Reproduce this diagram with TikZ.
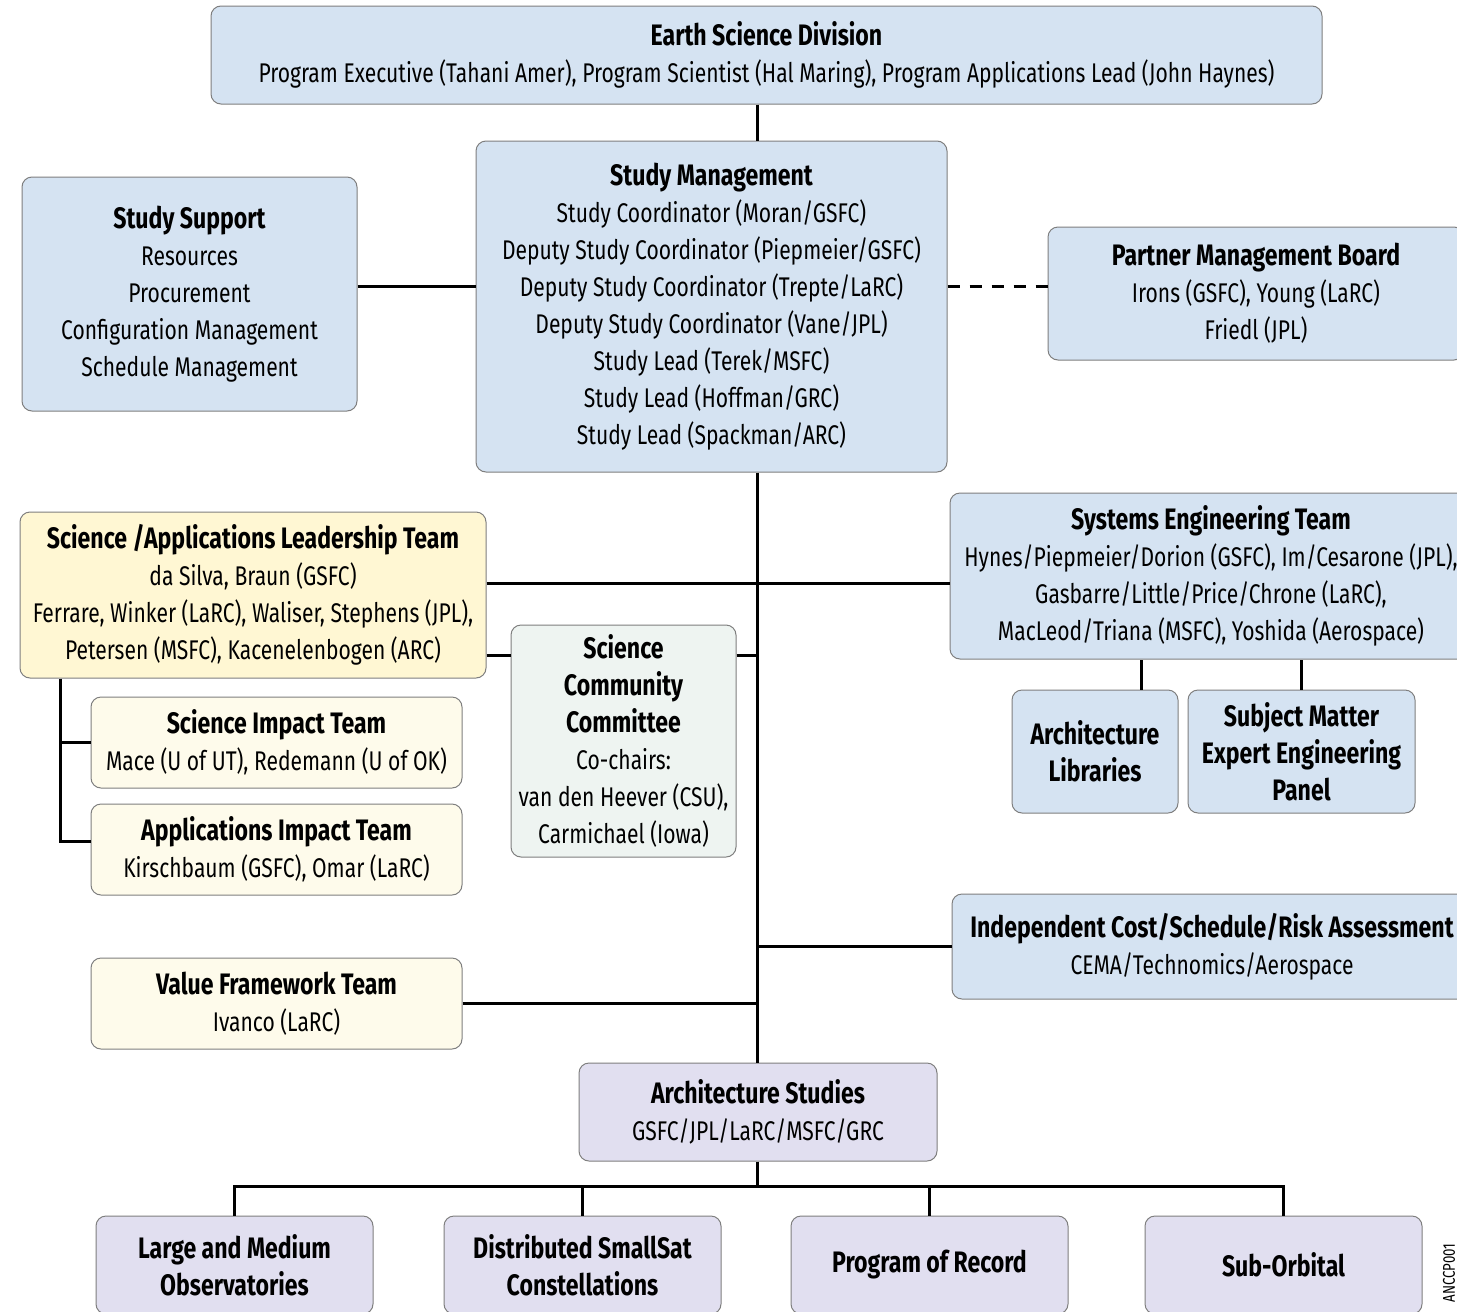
\documentclass[tikz,border=0pt]{standalone}
\usepackage{fontspec}
\setmainfont[FakeStretch=0.78]{Fira Sans}
\usetikzlibrary{positioning}
\definecolor{boxblue}{HTML}{D5E3F2}
\definecolor{boxyellow}{HTML}{FFF7D3}
\definecolor{boxcream}{HTML}{FEFBEB}
\definecolor{boxgreen}{HTML}{EEF4F1}
\definecolor{boxviolet}{HTML}{E1DFF0}
\definecolor{boxline}{HTML}{7F7F7F}
\newcommand\boxtitle[1]{{\fontsize{14.8}{18.5}\selectfont\bfseries #1}}
\tikzset{
    orgbox/.style={draw=boxline,line width=0.5pt,rounded corners=5pt,align=center,inner sep=0pt,
        font=\fontsize{13.5}{18.5}\selectfont},
    bluebox/.style={orgbox,fill=boxblue},
    yellowbox/.style={orgbox,fill=boxyellow},
    creambox/.style={orgbox,fill=boxcream},
    greenbox/.style={orgbox,fill=boxgreen},
    violetbox/.style={orgbox,fill=boxviolet},
    link/.style={line width=1.5pt},
}
\begin{document}
\begin{tikzpicture}[x=0.5pt,y=-0.5pt]
    \clip (0,0) rectangle (1457,1312);
    \fill[white] (0,0) rectangle (1457,1312);
    % top of the tree
    \node[bluebox,minimum width=555.5pt,minimum height=49pt] (esd) at (766.5,55)
        {\boxtitle{Earth Science Division}\\Program Executive (Tahani Amer), Program Scientist (Hal Maring), Program Applications Lead (John Haynes)};
    \node[bluebox,minimum width=235.5pt,minimum height=165.5pt] (sm) at (711.5,306.5)
        {\boxtitle{Study Management}\\Study Coordinator (Moran/GSFC)\\Deputy Study Coordinator (Piepmeier/GSFC)\\Deputy Study Coordinator (Trepte/LaRC)\\Deputy Study Coordinator (Vane/JPL)\\Study Lead (Terek/MSFC)\\Study Lead (Hoffman/GRC)\\Study Lead (Spackman/ARC)};
    \node[bluebox,minimum width=167.5pt,minimum height=117pt] (ss) at (189.5,294)
        {\boxtitle{Study Support}\\Resources\\Procurement\\Configuration Management\\Schedule Management};
    \node[bluebox,minimum width=208pt,minimum height=66.5pt] (pmb) at (1256,293.5)
        {\boxtitle{Partner Management Board}\\Irons (GSFC), Young (LaRC)\\Friedl (JPL)};
    % teams
    \node[yellowbox,minimum width=233pt,minimum height=83pt] (salt) at (253,595)
        {\boxtitle{Science /Applications Leadership Team}\\da Silva, Braun (GSFC)\\Ferrare, Winker (LaRC), Waliser, Stephens (JPL),\\Petersen (MSFC), Kacenelenbogen (ARC)};
    \node[bluebox,minimum width=261pt,minimum height=83pt] (set) at (1211,576)
        {\boxtitle{Systems Engineering Team}\\Hynes/Piepmeier/Dorion (GSFC), Im/Cesarone (JPL),\\Gasbarre/Little/Price/Chrone (LaRC),\\MacLeod/Triana (MSFC), Yoshida (Aerospace)};
    \node[greenbox,minimum width=112.5pt,minimum height=116pt] (scc) at (623.5,741)
        {\boxtitle{Science}\\\boxtitle{Community}\\\boxtitle{Committee}\\Co-chairs:\\van den Heever (CSU),\\Carmichael (Iowa)};
    \node[bluebox,minimum width=83pt,minimum height=61.5pt] (al) at (1095,751.5)
        {\boxtitle{Architecture}\\\boxtitle{Libraries}};
    \node[bluebox,minimum width=113.5pt,minimum height=61.5pt] (sme) at (1301.5,751.5)
        {\boxtitle{Subject Matter}\\\boxtitle{Expert Engineering}\\\boxtitle{Panel}};
    \node[creambox,minimum width=185.5pt,minimum height=45.5pt] (sit) at (276.5,742.5)
        {\boxtitle{Science Impact Team}\\Mace (U of UT), Redemann (U of OK)};
    \node[creambox,minimum width=185.5pt,minimum height=45.5pt] (ait) at (276.5,849.5)
        {\boxtitle{Applications Impact Team}\\Kirschbaum (GSFC), Omar (LaRC)};
    \node[bluebox,minimum width=260pt,minimum height=52.5pt] (icsra) at (1212,946.5)
        {\boxtitle{Independent Cost/Schedule/Risk Assessment}\\CEMA/Technomics/Aerospace};
    \node[creambox,minimum width=185.5pt,minimum height=45.5pt] (vft) at (276.5,1003.5)
        {\boxtitle{Value Framework Team}\\Ivanco (LaRC)};
    % studies
    \node[violetbox,minimum width=179pt,minimum height=49pt] (as) at (758,1112)
        {\boxtitle{Architecture Studies}\\GSFC/JPL/LaRC/MSFC/GRC};
    \node[violetbox,minimum width=138.5pt,minimum height=49pt] (lmo) at (234.5,1265)
        {\boxtitle{Large and Medium}\\\boxtitle{Observatories}};
    \node[violetbox,minimum width=138.5pt,minimum height=49pt] (dsc) at (582.5,1265)
        {\boxtitle{Distributed SmallSat}\\\boxtitle{Constellations}};
    \node[violetbox,minimum width=138.5pt,minimum height=49pt] (por) at (929.5,1265)
        {\boxtitle{Program of Record}};
    \node[violetbox,minimum width=138.5pt,minimum height=49pt] (so) at (1283.5,1265)
        {\boxtitle{Sub-Orbital}};
    \node[rotate=90,font=\fontsize{8.5}{10}\selectfont] (tag) at (1449,1273) {ANCCP001};
    % connectors
    \coordinate (spine) at (757,286);
    \coordinate (j1) at (757,583);
    \coordinate (j2) at (757,655);
    \coordinate (tap) at (60,700);
    \coordinate (bus) at (757,1186);
    \draw[link] (esd.south -| spine) -- (sm.north -| spine);
    \draw[link] (sm.south -| spine) -- (as.north -| spine);
    \draw[link] (ss.east |- spine) -- (sm.west |- spine);
    \draw[link,dashed,dash pattern=on 6pt off 5pt] (sm.east |- spine) -- (pmb.west |- spine);
    \draw[link] (salt.east |- j1) -- (set.west |- j1);
    \draw[link] (salt.east |- j2) -- (scc.west |- j2);
    \draw[link] (scc.east |- j2) -- (j2);
    \draw[link] (salt.south -| tap) |- ([yshift=4pt]ait.west);
    \draw[link] (sit.west) -- (sit.west -| tap);
    \draw[link] ([xshift=23pt]al.north) -- ([xshift=23pt]al.north |- set.south);
    \draw[link] (sme.north) -- (sme.north |- set.south);
    \draw[link] (icsra.west) -- (icsra.west -| spine);
    \draw[link] (vft.east) -- (vft.east -| spine);
    \draw[link] (as.south -| spine) -- (bus);
    \draw[link] (lmo.north) |- (bus) -| (so.north);
    \draw[link] (dsc.north) -- (dsc.north |- bus);
    \draw[link] (por.north) -- (por.north |- bus);
\end{tikzpicture}
\end{document}
